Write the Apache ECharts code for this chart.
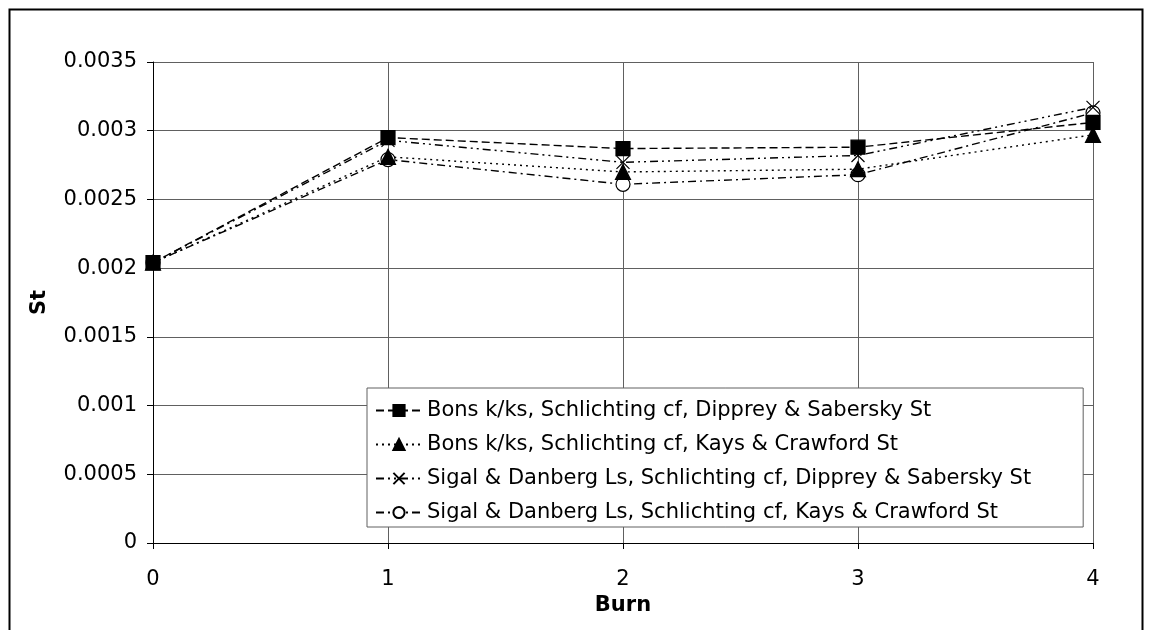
<!DOCTYPE html>
<html><head><meta charset="utf-8">
<script src="https://cdn.jsdelivr.net/npm/echarts@6/dist/echarts.min.js"></script>
<style>html,body{margin:0;padding:0;background:#fff}#c{width:1149px;height:630px}</style>
</head><body><div id="c"></div>
<script>
const burns = [0, 1, 2, 3, 4];
const seriesNames = [
  'Bons k/ks, Schlichting cf, Dipprey & Sabersky St',
  'Bons k/ks, Schlichting cf, Kays & Crawford St',
  'Sigal & Danberg Ls, Schlichting cf, Dipprey & Sabersky St',
  'Sigal & Danberg Ls, Schlichting cf, Kays & Crawford St'
];
const bonsDS = [0.00204, 0.00295, 0.00287, 0.00288, 0.00306];
const bonsKC = [0.00204, 0.00281, 0.00270, 0.00272, 0.00297];
const sigalDS = [0.00204, 0.00293, 0.00277, 0.00282, 0.00317];
const sigalKC = [0.00204, 0.00279, 0.00261, 0.00268, 0.00313];
const yTicks = [0, 0.0005, 0.001, 0.0015, 0.002, 0.0025, 0.003, 0.0035];

const FONT = 'DejaVu Sans, sans-serif';
const FS = 21;
const crossPath = 'path://M0,0L10,10M10,0L0,10';
const styles = [
  {symbol: 'rect', size: 14, dash: [8, 4], fill: '#000'},
  {symbol: 'triangle', size: 15, dash: [2, 4], fill: '#000'},
  {symbol: crossPath, size: 13, dash: [8, 4, 2, 4, 2, 4], fill: 'none'},
  {symbol: 'circle', size: 14, dash: [8, 4, 2, 4], fill: '#fff'}
];
const dataSets = [bonsDS, bonsKC, sigalDS, sigalKC];

const series = dataSets.map((d, i) => ({
  name: seriesNames[i],
  type: 'line',
  data: burns.map((b, j) => [b, d[j]]),
  symbol: styles[i].symbol,
  symbolSize: styles[i].size,
  showAllSymbol: true,
  z: 10 - i,
  lineStyle: {color: '#000', width: 1.4, type: styles[i].dash},
  itemStyle: {color: styles[i].fill, borderColor: '#000', borderWidth: 1.2},
  emphasis: {disabled: true},
  animation: false
}));

const chart = echarts.init(document.getElementById('c'), null, {renderer: 'canvas'});
chart.setOption({
  backgroundColor: '#fff',
  animation: false,
  graphic: [{
    type: 'rect', left: 7, top: 7,
    shape: {width: 1133, height: 640},
    style: {fill: 'none', stroke: '#000', lineWidth: 2}, z: -1
  }],
  grid: {left: 153, right: 56, top: 62, bottom: 87, show: false},
  xAxis: {
    type: 'value', min: 0, max: 4, interval: 1,
    name: 'Burn', nameLocation: 'middle', nameGap: 49,
    nameTextStyle: {fontFamily: FONT, fontSize: FS, fontWeight: 'bold', color: '#000'},
    axisLine: {show: true, onZero: false, lineStyle: {color: '#000', width: 1}},
    axisTick: {show: true, inside: false, length: 6, lineStyle: {color: '#000'}},
    axisLabel: {fontFamily: FONT, fontSize: FS, color: '#000', margin: 26},
    splitLine: {show: true, lineStyle: {color: '#606060', width: 1}}
  },
  yAxis: {
    type: 'value', min: 0, max: 0.0035, interval: 0.0005,
    name: 'St', nameLocation: 'middle', nameGap: 103, nameRotate: 90,
    nameTextStyle: {fontFamily: FONT, fontSize: FS, fontWeight: 'bold', color: '#000'},
    axisLine: {show: true, lineStyle: {color: '#000', width: 1}},
    axisTick: {show: true, inside: false, length: 6, lineStyle: {color: '#000'}},
    axisLabel: {
      fontFamily: FONT, fontSize: FS, color: '#000', margin: 16,
      formatter: v => String(+v.toFixed(4))
    },
    splitLine: {show: true, lineStyle: {color: '#606060', width: 1}}
  },
  legend: {
    left: 367, top: 388,
    orient: 'vertical',
    backgroundColor: '#fff',
    borderColor: '#606060', borderWidth: 1,
    padding: [12, 52, 4, 8],
    itemGap: 13,
    itemWidth: 46, itemHeight: 14,
    selectedMode: false,
    textStyle: {fontFamily: FONT, fontSize: FS, color: '#000'},
    data: seriesNames
  },
  series: series
});
</script></body></html>
